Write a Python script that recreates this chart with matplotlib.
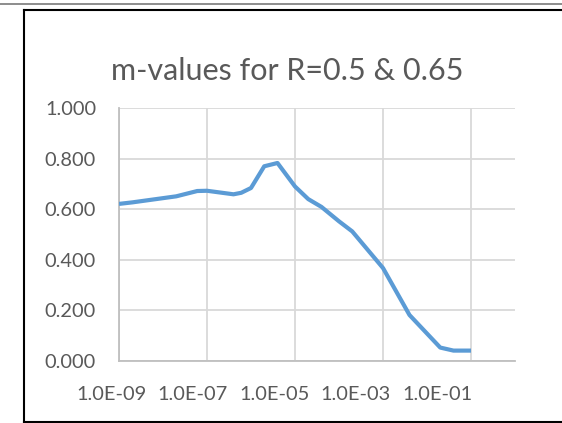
import matplotlib
matplotlib.use("Agg")
import matplotlib.pyplot as plt
from matplotlib.lines import Line2D
from matplotlib.transforms import blended_transform_factory

# R values sampled on a log grid and the fitted m-values
r_values = [1e-9, 2e-9, 2e-8, 6e-8, 1e-7, 4e-7, 6e-7, 1e-6, 2e-6, 4e-6,
            1e-5, 2e-5, 4e-5, 1e-4, 2e-4, 1e-3, 4e-3, 2e-2, 4e-2, 1e-1]
m_values = [0.621, 0.627, 0.651, 0.672, 0.673, 0.659, 0.665, 0.684, 0.770, 0.783,
            0.690, 0.640, 0.609, 0.552, 0.512, 0.367, 0.181, 0.052, 0.040, 0.040]

x_label_exponents = [-9, -7, -5, -3, -1]
x_tick_labels = ["1.0E-09", "1.0E-07", "1.0E-05", "1.0E-03", "1.0E-01"]
y_ticks = [0.0, 0.2, 0.4, 0.6, 0.8, 1.0]
title = "m-values for R=0.5 & 0.65"

W, H = 562, 423
fig = plt.figure(figsize=(W / 100, H / 100), dpi=100)
plt.rcParams["font.family"] = ["Lato", "DejaVu Sans"]

text_col = "#595959"
grid_col = "#D9D9D9"
axis_col = "#BFBFBF"

ax = fig.add_axes([119 / W, 1 - 360.7 / H, (515 - 119) / W, (360.7 - 108.2) / H])
ax.set_xscale("log")

ax.plot(r_values, m_values, color="#5B9BD5", lw=3.0, solid_joinstyle="round",
        solid_capstyle="butt", zorder=3)

# vertical gridlines every second decade
ax.set_xticks([10.0 ** e for e in x_label_exponents])
ax.set_xticks([], minor=True)
ax.xaxis.grid(True, color=grid_col, lw=1.3)
ax.tick_params(axis="x", length=0, labelbottom=False)

# category-style labels along the bottom
trans = blended_transform_factory(ax.transData, ax.transAxes)
for e, lab in zip(x_label_exponents, x_tick_labels):
    ax.text(10.0 ** (e * 0.926 - 0.846), -0.134, lab, transform=trans,
            ha="center", va="center", fontsize=14.4, color=text_col, clip_on=False)

ax.set_yticks(y_ticks)
ax.set_yticklabels([f"{v:.3f}" for v in y_ticks])
ax.yaxis.grid(True, color=grid_col, lw=1.3)
ax.tick_params(axis="y", length=0, pad=16.5, labelsize=14.4, labelcolor=text_col)

ax.set_xlim(1e-9, 1e0)
ax.set_ylim(0, 1.0)

for s in ["top", "right"]:
    ax.spines[s].set_visible(False)
for s in ["left", "bottom"]:
    ax.spines[s].set_color(axis_col)
    ax.spines[s].set_linewidth(1.3)
ax.set_axisbelow(True)

fig.text(287 / W, 1 - 80 / H, title, ha="center", va="baseline",
         fontsize=22, color=text_col)

# outer frame
def px_line(x0, y0, x1, y1, **kw):
    fig.add_artist(Line2D([x0 / W, x1 / W], [1 - y0 / H, 1 - y1 / H],
                          transform=fig.transFigure, **kw))

px_line(0, 3.8, W, 3.8, color="#6E6E6E", lw=1.1)
px_line(24.3, 10.2, W, 10.2, color="black", lw=1.5)
px_line(24.3, 10.2, 24.3, 422.2, color="black", lw=1.5)
px_line(24.3, 422.2, W, 422.2, color="black", lw=1.5)

fig.savefig("out.png", dpi=100)
